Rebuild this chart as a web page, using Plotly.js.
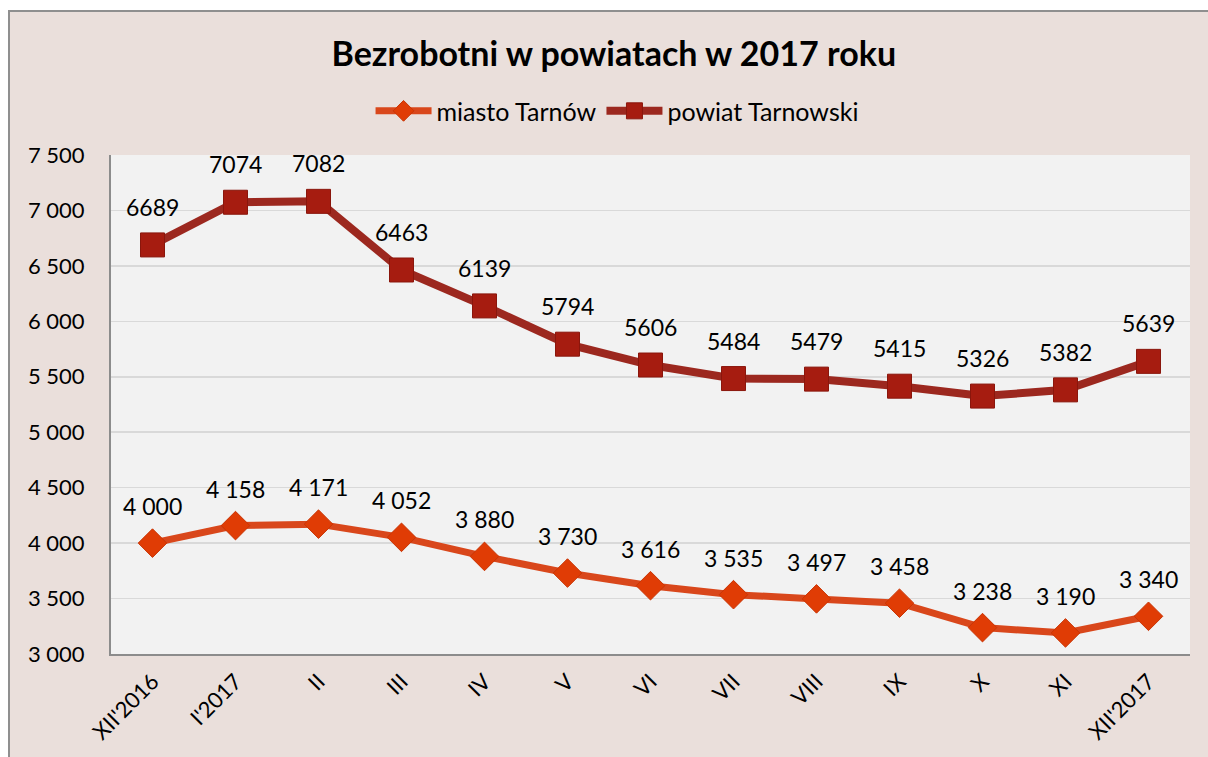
<!DOCTYPE html>
<html>
<head>
<meta charset="utf-8">
<script src="https://cdn.plot.ly/plotly-3.0.1.min.js"></script>
<style>
  html, body { margin: 0; padding: 0; background: #ffffff; }
  #frame { position: absolute; left: 8px; top: 10px; width: 1200px; height: 747px;
           border-left: 2px solid #8f8f8f; border-top: 2px solid #8f8f8f; background: #eadfdb; }
  #chart { width: 1198px; height: 745px; }
</style>
</head>
<body>
<div id="frame"><div id="chart"></div></div>
<script>
const categories = ["XII'2016", "I'2017", "II", "III", "IV", "V", "VI", "VII", "VIII", "IX", "X", "XI", "XII'2017"];
const miastoTarnow = [4000, 4158, 4171, 4052, 3880, 3730, 3616, 3535, 3497, 3458, 3238, 3190, 3340];
const powiatTarnowski = [6689, 7074, 7082, 6463, 6139, 5794, 5606, 5484, 5479, 5415, 5326, 5382, 5639];
const seriesNames = ["miasto Tarnów", "powiat Tarnowski"];
const chartTitle = "Bezrobotni w powiatach w 2017 roku";
const yTicks = [3000, 3500, 4000, 4500, 5000, 5500, 6000, 6500, 7000, 7500];

function spaced(v) {
  return String(v).replace(/\B(?=(\d{3})+(?!\d))/g, " ");
}

const FONT = "Lato, 'Open Sans', 'DejaVu Sans', sans-serif";

const traces = [
  {
    x: categories, y: miastoTarnow, name: seriesNames[0], type: "scatter", mode: "lines+markers",
    line: { color: "#d9471b", width: 7 },
    marker: { symbol: "diamond", size: 22, color: "#e03c05", line: { color: "#c93505", width: 1 } },
    hoverinfo: "x+y"
  },
  {
    x: categories, y: powiatTarnowski, name: seriesNames[1], type: "scatter", mode: "lines+markers",
    line: { color: "#9c281f", width: 8 },
    marker: { symbol: "square", size: 24, color: "#a61c10", line: { color: "#8a160c", width: 1 } },
    hoverinfo: "x+y"
  }
];

const annotations = [];
categories.forEach((c, i) => {
  annotations.push({ x: c, y: miastoTarnow[i], text: spaced(miastoTarnow[i]), showarrow: false,
    yshift: 37, font: { family: FONT, size: 23, color: "#000" } });
  annotations.push({ x: c, y: powiatTarnowski[i], text: String(powiatTarnowski[i]), showarrow: false,
    yshift: 38, font: { family: FONT, size: 23, color: "#000" } });
});

const layout = {
  width: 1198, height: 745,
  paper_bgcolor: "#eadfdb",
  plot_bgcolor: "#f2f2f2",
  margin: { l: 101, r: 18, t: 143, b: 103 },
  title: { text: "<b>" + chartTitle + "</b>", x: 0.504, xanchor: "center", y: 0.943, yanchor: "middle",
           font: { family: FONT, size: 34, color: "#000" } },
  showlegend: true,
  legend: { orientation: "h", x: 0.469, xanchor: "center", y: 1.088, yanchor: "middle",
            font: { family: FONT, size: 25, color: "#000" }, bgcolor: "rgba(0,0,0,0)", itemwidth: 56,
            tracegroupgap: 0 },
  xaxis: {
    type: "category", range: [-0.5, 12.5], tickangle: -45,
    tickfont: { family: FONT, size: 22, color: "#000" }, ticklabelstandoff: 4,
    showline: true, linecolor: "#8c8c8c", linewidth: 2, showgrid: false, ticks: "", fixedrange: true
  },
  yaxis: {
    range: [3000, 7500], tickvals: yTicks, ticktext: yTicks.map(spaced),
    tickfont: { family: FONT, size: 22, color: "#000" }, ticklabelstandoff: 20,
    showline: true, linecolor: "#8c8c8c", linewidth: 2,
    showgrid: true, gridcolor: "#d9d9d9", gridwidth: 1.5, zeroline: false, ticks: "", ticklen: 0,
    fixedrange: true
  },
  annotations: annotations
};

Plotly.newPlot("chart", traces, layout, { displayModeBar: false, staticPlot: true });
</script>
</body>
</html>
